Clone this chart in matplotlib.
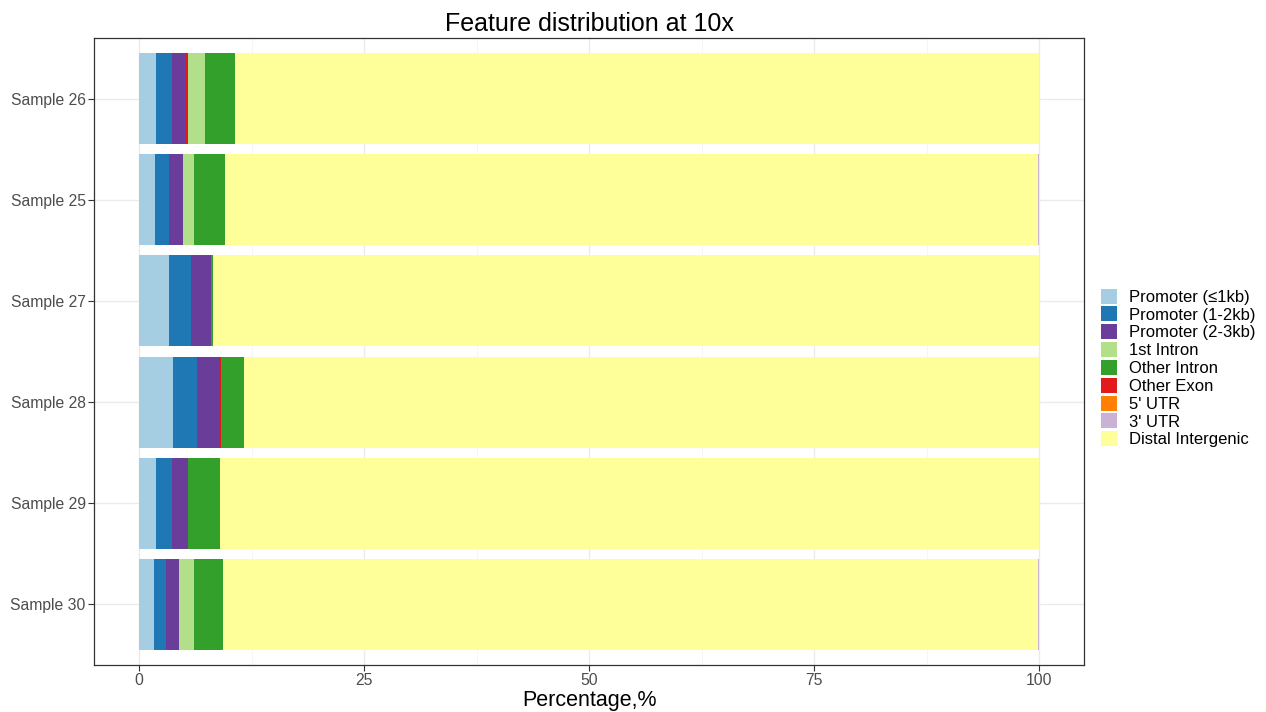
import matplotlib.pyplot as plt
from matplotlib.patches import Patch
import numpy as np

plt.rcParams["font.family"] = ["Liberation Sans", "DejaVu Sans"]

samples = ["Sample 30", "Sample 29", "Sample 28", "Sample 27", "Sample 25", "Sample 26"]
features = ["Promoter (\u22641kb)", "Promoter (1-2kb)", "Promoter (2-3kb)", "1st Intron",
            "Other Intron", "Other Exon", "5' UTR", "3' UTR", "Distal Intergenic"]
colors = ["#A6CEE3", "#1F78B4", "#6A3D9A", "#B2DF8A", "#33A02C",
          "#E31A1C", "#FF7F00", "#CAB2D6", "#FFFF99"]

# percentages per feature (same order as samples), distal intergenic is the remainder
prom1 = [1.67, 1.93, 3.77, 3.33, 1.74, 1.93]
prom2 = [1.37, 1.78, 2.67, 2.48, 1.63, 1.70]
prom3 = [1.37, 1.70, 2.55, 2.15, 1.51, 1.63]
intron1 = [1.74, 0.00, 0.00, 0.00, 1.22, 1.85]
intron_other = [3.14, 3.59, 2.60, 0.26, 3.48, 3.37]
exon_other = [0.00, 0.00, 0.08, 0.00, 0.00, 0.20]
utr5 = [0.00, 0.00, 0.00, 0.00, 0.00, 0.00]
utr3 = [0.12, 0.00, 0.00, 0.00, 0.12, 0.00]

parts = np.array([prom1, prom2, prom3, intron1, intron_other, exon_other, utr5, utr3])
distal = 100 - parts.sum(axis=0)
# stacking order in the bar: promoters, other exon, 1st intron, other intron, ..., distal
order = [0, 1, 2, 5, 3, 4, 6, 8, 7]
values = np.vstack([parts, distal])

fig = plt.figure(figsize=(12.66, 7.12), dpi=100)
ax = fig.add_axes([94 / 1266, 47 / 712, 990 / 1266, 627 / 712])

y = np.arange(1, len(samples) + 1)
left = np.zeros(len(samples))
for i in order:
    ax.barh(y, values[i], left=left, height=0.9, color=colors[i], linewidth=0, zorder=2)
    left += values[i]

ax.set_xlim(-5, 105)
ax.set_ylim(0.4, 6.6)
ax.set_xticks([0, 25, 50, 75, 100])
ax.set_xticks([12.5, 37.5, 62.5, 87.5], minor=True)
ax.set_yticks(y)
ax.set_yticklabels(samples)
ax.grid(True, which="major", color="#EBEBEB", linewidth=1.0, zorder=0)
ax.grid(True, which="minor", axis="x", color="#F4F4F4", linewidth=0.6, zorder=0)
ax.set_axisbelow(True)
for s in ax.spines.values():
    s.set_color("#333333")
    s.set_linewidth(0.9)
ax.tick_params(axis="both", which="major", labelsize=11.3, colors="#4D4D4D", length=4,
               color="#333333", pad=2)
ax.tick_params(axis="both", which="minor", length=0)

ax.set_xlabel("Percentage,%", fontsize=15.5, labelpad=1)
ax.set_title("Feature distribution at 10x", fontsize=18, pad=5)

handles = [Patch(facecolor=c, edgecolor="none") for c in colors]
fig.legend(handles, features, loc="center left", bbox_to_anchor=(1101 / 1266, 1 - 368 / 712),
           frameon=False, fontsize=12, handlelength=0.95, handleheight=1.0,
           labelspacing=0.1, handletextpad=0.75, borderpad=0, borderaxespad=0)

fig.savefig("out.png", dpi=100)
